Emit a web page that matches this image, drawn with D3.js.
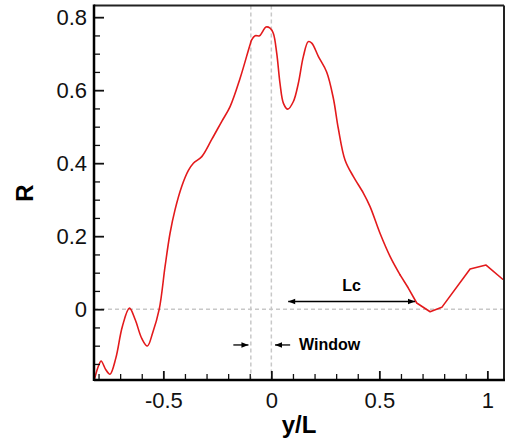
<!DOCTYPE html>
<html><head><meta charset="utf-8">
<script src="https://cdn.jsdelivr.net/npm/d3@7"></script>
<style>body{margin:0;background:#fff}svg{display:block}text{font-family:"Liberation Sans",Arial,sans-serif}</style>
</head><body><svg id="c" width="507" height="439"></svg>
<script>
const yOverL = [-0.818,-0.800,-0.788,-0.767,-0.747,-0.720,-0.690,-0.657,-0.630,-0.600,-0.574,-0.550,-0.519,-0.492,-0.469,-0.446,-0.415,-0.384,-0.361,-0.322,-0.276,-0.230,-0.191,-0.145,-0.099,-0.091,-0.075,-0.055,-0.040,-0.025,-0.006,0.009,0.025,0.040,0.056,0.076,0.102,0.125,0.148,0.171,0.187,0.218,0.256,0.287,0.310,0.341,0.380,0.426,0.457,0.503,0.550,0.596,0.634,0.673,0.735,0.789,0.920,0.994,1.071];
const R = [-0.19,-0.155,-0.142,-0.165,-0.178,-0.134,-0.048,0.003,-0.029,-0.080,-0.101,-0.066,0.0,0.117,0.208,0.272,0.336,0.380,0.400,0.418,0.465,0.514,0.555,0.632,0.724,0.738,0.749,0.749,0.761,0.773,0.770,0.756,0.701,0.619,0.564,0.548,0.569,0.619,0.692,0.733,0.729,0.692,0.650,0.578,0.495,0.409,0.363,0.318,0.281,0.208,0.144,0.094,0.058,0.017,-0.007,0.005,0.110,0.121,0.082];
const xMajor = [-0.5,0,0.5,1];
const xMajorLabels = ["-0.5","0","0.5","1"];
const xMinor = [-0.8,-0.7,-0.6,-0.4,-0.3,-0.2,-0.1,0.1,0.2,0.3,0.4,0.6,0.7,0.8,0.9];
const yMajor = [0,0.2,0.4,0.6,0.8];
const yMajorLabels = ["0","0.2","0.4","0.6","0.8"];
const yMinor = [-0.15,-0.1,-0.05,0.05,0.1,0.15,0.25,0.3,0.35,0.45,0.5,0.55,0.65,0.7,0.75];
const windowLines = [-0.095, 0];
const lcArrow = [0.078, 0.665, 0.021];
const windowArrowsY = -0.098;
const windowLeft = [-0.176, -0.106];
const windowRight = [0.087, 0.017];
const linearFrom = 0.596; // coarse sampling beyond this point (straight segments)

const svg = d3.select("#c");
const L=94,Rt=504,T=5.5,B=380;
const x = d3.scaleLinear().domain([-0.821,1.077]).range([L,Rt]);
const y = d3.scaleLinear().domain([-0.194,0.832]).range([B,T]);

const defs = svg.append("defs");
defs.append("clipPath").attr("id","clip").append("rect").attr("x",L).attr("y",T).attr("width",Rt-L).attr("height",B-T);
defs.append("marker").attr("id","ah").attr("viewBox","0 0 10 10").attr("refX",10).attr("refY",5)
  .attr("markerWidth",9).attr("markerHeight",7).attr("markerUnits","userSpaceOnUse").attr("orient","auto-start-reverse")
  .append("path").attr("d","M0,1 L10,5 L0,9 Z").attr("fill","#000");

const g = svg.append("g").attr("clip-path","url(#clip)");
windowLines.forEach(v=>g.append("line").attr("x1",x(v)).attr("x2",x(v)).attr("y1",T).attr("y2",B)
  .attr("stroke","#c8c8c8").attr("stroke-width",1.5).attr("stroke-dasharray","4,3"));
g.append("line").attr("x1",L).attr("x2",Rt).attr("y1",y(0)).attr("y2",y(0))
  .attr("stroke","#c8c8c8").attr("stroke-width",1.5).attr("stroke-dasharray","4,3");

const pts = yOverL.map((v,i)=>[v,R[i]]);
const smooth = pts.filter(d=>d[0]<=linearFrom);
const coarse = pts.filter(d=>d[0]>=linearFrom);
const lineGen = c=>d3.line().x(d=>x(d[0])).y(d=>y(d[1])).curve(c);
g.append("path").datum(smooth).attr("fill","none").attr("stroke","#e31a1c").attr("stroke-width",1.6)
  .attr("stroke-linecap","round").attr("d",lineGen(d3.curveCatmullRom.alpha(0.5)));
g.append("path").datum(coarse).attr("fill","none").attr("stroke","#e31a1c").attr("stroke-width",1.6)
  .attr("stroke-linejoin","round").attr("stroke-linecap","round").attr("d",lineGen(d3.curveLinear));

const fmtX = d=>xMajorLabels[xMajor.indexOf(d)];
const fmtY = d=>yMajorLabels[yMajor.indexOf(d)];
const xa = svg.append("g").attr("transform",`translate(0,${B})`)
  .call(d3.axisBottom(x).tickValues(xMajor).tickFormat(fmtX).tickSize(-9).tickPadding(12));
const xm = svg.append("g").attr("transform",`translate(0,${B})`)
  .call(d3.axisBottom(x).tickValues(xMinor).tickFormat("").tickSize(-6));
const ya = svg.append("g").attr("transform",`translate(${L},0)`)
  .call(d3.axisLeft(y).tickValues(yMajor).tickFormat(fmtY).tickSize(-10).tickPadding(7));
const ym = svg.append("g").attr("transform",`translate(${L},0)`)
  .call(d3.axisLeft(y).tickValues(yMinor).tickFormat("").tickSize(-6));
[xa,xm,ya,ym].forEach(a=>{a.select(".domain").remove();a.selectAll(".tick line").attr("stroke","#111").attr("stroke-width",1.3);});
[xa,ya].forEach(a=>a.selectAll("text").attr("font-size",22).attr("fill","#111").style("font-family","'Liberation Sans',Arial,sans-serif"));
xa.selectAll(".tick line").attr("stroke-width",1.8);
ya.selectAll(".tick line").attr("stroke-width",1.8);
xa.selectAll("text").attr("dy","0.71em");

svg.append("line").attr("x1",L).attr("x2",Rt).attr("y1",T).attr("y2",T).attr("stroke","#222").attr("stroke-width",2);
svg.append("line").attr("x1",Rt).attr("x2",Rt).attr("y1",T).attr("y2",B).attr("stroke","#222").attr("stroke-width",2);
svg.append("line").attr("x1",L).attr("x2",Rt+1).attr("y1",B).attr("y2",B).attr("stroke","#000").attr("stroke-width",2.5);
svg.append("line").attr("x1",L).attr("x2",L).attr("y1",T-1).attr("y2",B+1).attr("stroke","#000").attr("stroke-width",2.5);

svg.append("line").attr("x1",x(lcArrow[0])).attr("x2",x(lcArrow[1])).attr("y1",y(lcArrow[2])).attr("y2",y(lcArrow[2]))
  .attr("stroke","#000").attr("stroke-width",1.3).attr("marker-start","url(#ah)").attr("marker-end","url(#ah)");
svg.append("text").attr("x",x((lcArrow[0]+lcArrow[1])/2)).attr("y",291).attr("text-anchor","middle")
  .attr("font-size",16).attr("font-weight","bold").text("Lc");
svg.append("line").attr("x1",x(windowLeft[0])).attr("x2",x(windowLeft[1])).attr("y1",y(windowArrowsY)).attr("y2",y(windowArrowsY))
  .attr("stroke","#000").attr("stroke-width",1.3).attr("marker-end","url(#ah)");
svg.append("line").attr("x1",x(windowRight[0])).attr("x2",x(windowRight[1])).attr("y1",y(windowArrowsY)).attr("y2",y(windowArrowsY))
  .attr("stroke","#000").attr("stroke-width",1.3).attr("marker-end","url(#ah)");
svg.append("text").attr("x",299).attr("y",350).attr("font-size",16).attr("font-weight","bold").text("Window");

svg.append("text").attr("transform","translate(33,193) rotate(-90)").attr("text-anchor","middle")
  .attr("font-size",24).attr("font-weight","bold").text("R");
svg.append("text").attr("x",299).attr("y",433).attr("text-anchor","middle")
  .attr("font-size",24).attr("font-weight","bold").text("y/L");
</script></body></html>
